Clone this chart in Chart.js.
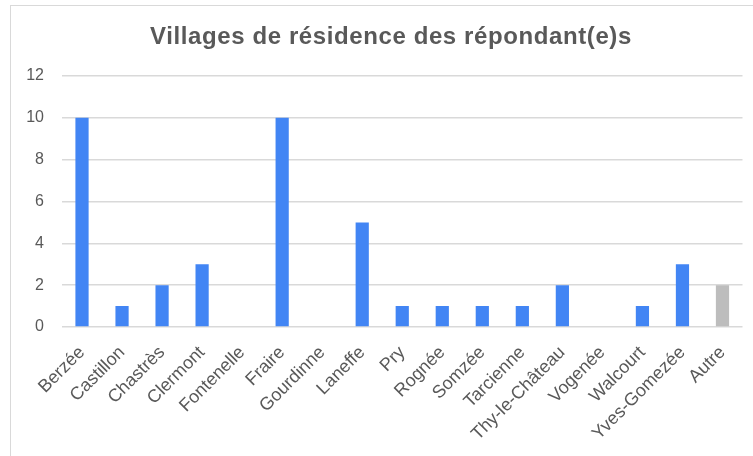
<!DOCTYPE html>
<html>
<head>
<meta charset="utf-8">
<script src="https://cdn.jsdelivr.net/npm/chart.js@4"></script>
<style>
  html, body { margin: 0; padding: 0; background: #fff; }
  #wrap { position: relative; width: 753px; height: 456px; overflow: hidden; }
  #frame { position: absolute; left: 10px; top: 5px; width: 760px; height: 470px; border: 1.5px solid #d9d9d9; box-sizing: border-box; }
  canvas { position: absolute; left: 0; top: 0; }
</style>
</head>
<body>
<div id="wrap">
  <div id="frame"></div>
  <canvas id="c" width="753" height="456"></canvas>
</div>
<script>
const title = "Villages de résidence des répondant(e)s";
const categories = ["Berzée","Castillon","Chastrès","Clermont","Fontenelle","Fraire","Gourdinne","Laneffe","Pry","Rognée","Somzée","Tarcienne","Thy-le-Château","Vogenée","Walcourt","Yves-Gomezée","Autre"];
const values = [10, 1, 2, 3, 0, 10, 0, 5, 1, 1, 1, 1, 2, 0, 1, 3, 2];
const highlightCategory = "Autre";
const yTicks = [0, 2, 4, 6, 8, 10, 12];

const blue = "#4285F4", grey = "#BDBDBD", textColor = "#595959", gridColor = "#d9d9d9";
const fontFamily = "'Liberation Sans', Arial, sans-serif";
const barColors = categories.map(c => c === highlightCategory ? grey : blue);

const titlePlugin = {
  id: 'customTitle',
  afterDraw(chart) {
    const ctx = chart.ctx;
    ctx.save();
    ctx.font = "bold 24px " + fontFamily;
    ctx.fillStyle = textColor;
    ctx.textAlign = 'center';
    ctx.textBaseline = 'alphabetic';
    if ('letterSpacing' in ctx) ctx.letterSpacing = '0.6px';
    ctx.fillText(title, 391, 44);
    ctx.restore();
  }
};

new Chart(document.getElementById('c'), {
  type: 'bar',
  data: {
    labels: categories,
    datasets: [{ data: values, backgroundColor: barColors, borderWidth: 0, barPercentage: 0.33, categoryPercentage: 1 }]
  },
  plugins: [titlePlugin],
  options: {
    responsive: false,
    animation: false,
    layout: { padding: { left: 0, right: 8, top: 76, bottom: 0 } },
    plugins: {
      legend: { display: false },
      tooltip: { enabled: false },
      title: { display: false }
    },
    scales: {
      x: {
        grid: { display: false, drawTicks: false },
        border: { display: false },
        ticks: { color: textColor, font: { family: fontFamily, size: 18 }, minRotation: 45, maxRotation: 45, padding: 15, autoSkip: false },
        afterFit: s => { s.height = 129; }
      },
      y: {
        min: 0, max: 12,
        afterBuildTicks: s => { s.ticks = yTicks.map(v => ({ value: v })); },
        grid: { color: gridColor, lineWidth: 1.5, drawTicks: false },
        border: { display: false },
        ticks: { color: textColor, font: { family: fontFamily, size: 16 }, padding: 18 },
        afterFit: s => { s.width = 62; }
      }
    }
  }
});
</script>
</body>
</html>
